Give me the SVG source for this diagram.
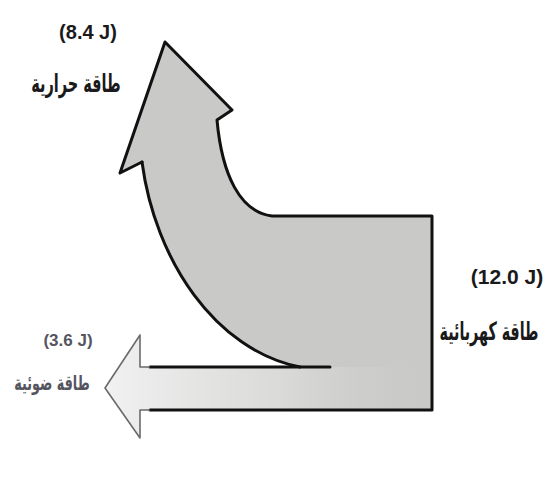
<svg xmlns="http://www.w3.org/2000/svg" width="547" height="479" viewBox="0 0 547 479">
  <style>
    .num { font-family: "Liberation Sans", "DejaVu Sans", sans-serif; font-weight: bold; fill: #1a1a1a; text-anchor: middle; }
    .ar { font-family: "DejaVu Sans", "Noto Sans", sans-serif; font-weight: bold; fill: #1a1a1a; text-anchor: middle; }
    .faint { fill: #555560; }
    .edge { fill: none; stroke: #111; stroke-width: 3; stroke-linejoin: round; stroke-linecap: round; }
    .thin { fill: none; stroke: #6a6a6a; stroke-width: 1.6; stroke-linejoin: round; }
  </style>
  <defs>
    <linearGradient id="lightFade" gradientUnits="userSpaceOnUse" x1="105" y1="0" x2="420" y2="0">
      <stop offset="0" stop-color="#f1f1f1" stop-opacity="1"/>
      <stop offset="0.55" stop-color="#e2e3e1" stop-opacity="0.7"/>
      <stop offset="1" stop-color="#d2d3d1" stop-opacity="0"/>
    </linearGradient>
  </defs>
  <rect width="547" height="479" fill="#ffffff"/>

  <g id="connectors">
    <path id="flow-fill" fill="#c9cac8" d="M165,42 L232,110 L217,120 C222,175 240,212 272,216 L432,216 L432,410 L140,410 L140,438 L105,388 L140,335 L140,367 L300,367 C215,350 155,260 142,162 L120,173 Z"/>
    <path id="light-fill" fill="url(#lightFade)" d="M140,367 L432,367 L432,410 L140,410 L140,438 L105,388 L140,335 Z"/>
    <path id="flow-outline" class="edge" d="M142,162 L120,173 L165,42 L232,110 L217,120 C222,175 240,212 272,216 L432,216 L432,410 L150,410"/>
    <path id="heat-curve" class="edge" d="M142,162 C155,260 215,350 300,367"/>
    <path id="light-top" class="edge" d="M150,367 L330,367"/>
    <path id="light-head" class="thin" d="M150,410 L140,410 L140,438 L105,388 L140,335 L140,367 L150,367"/>
  </g>

  <g id="node-heat">
    <text class="num" x="88" y="39" font-size="20">(8.4 J)</text>
    <text class="ar" transform="translate(76,92) scale(0.69,1.2)" font-size="21">طاقة حرارية</text>
  </g>
  <g id="node-electric">
    <text class="num" x="507" y="284" font-size="21">(12.0 J)</text>
    <text class="ar" transform="translate(489,340) scale(0.68,1.2)" font-size="21">طاقة كهربائية</text>
  </g>
  <g id="node-light">
    <text class="num faint" x="68" y="346" font-size="17">(3.6 J)</text>
    <text class="ar faint" transform="translate(52,390) scale(0.75,1.2)" font-size="17">طاقة ضوئية</text>
  </g>
</svg>
